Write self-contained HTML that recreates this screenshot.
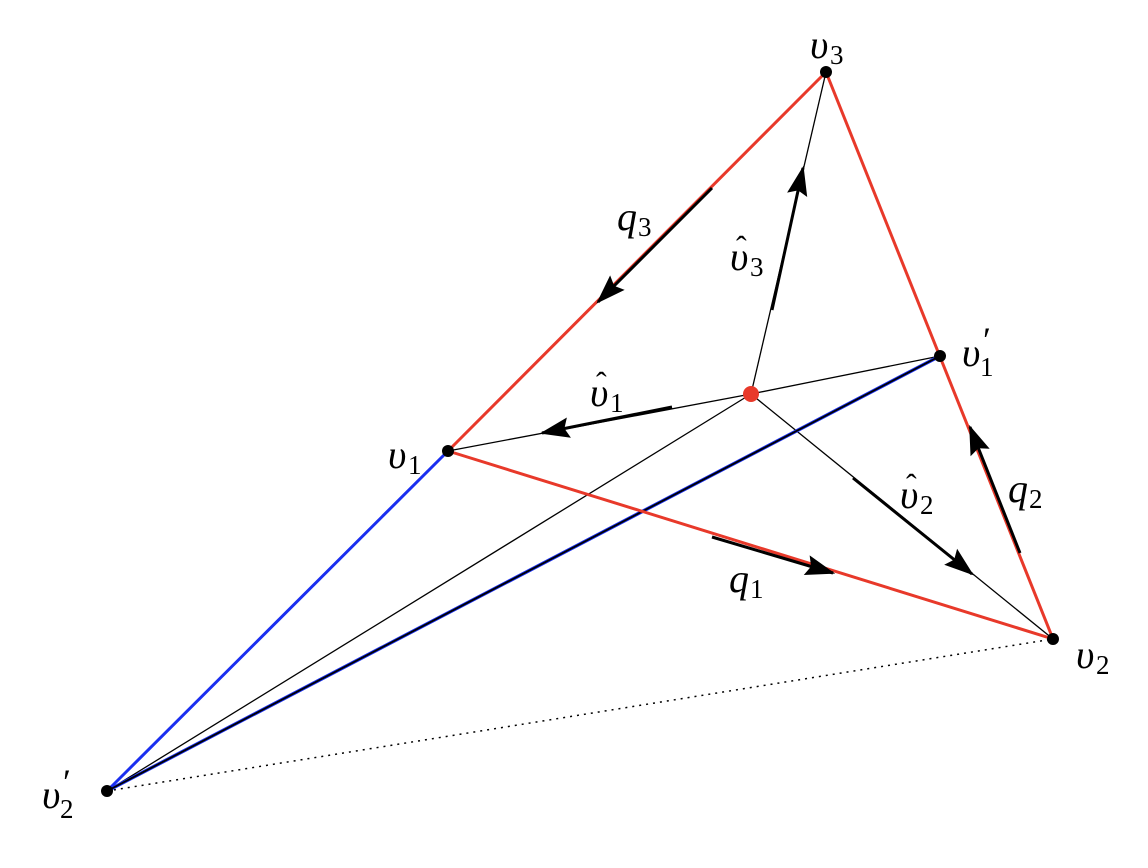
<!DOCTYPE html>
<html><head><meta charset="utf-8"><style>
html,body{margin:0;padding:0;background:#fff}
svg{display:block}
text{font-family:"Liberation Serif",serif;font-style:italic;fill:#000}
.s{font-style:normal}
</style></head><body>
<svg width="1148" height="868" viewBox="0 0 1148 868" xmlns="http://www.w3.org/2000/svg">
<defs>
<marker id="a" markerUnits="userSpaceOnUse" markerWidth="40" markerHeight="40" refX="0" refY="0" viewBox="-30 -15 35 30" orient="auto">
<path d="M2,0 L-24,-9 L-20,0 L-24,9 z" fill="#000"/>
</marker>
</defs>
<line x1="107" y1="791" x2="1053" y2="639" stroke="#000" stroke-width="1.5" stroke-dasharray="2,5"/>
<g stroke="#000" stroke-width="1.3">
<line x1="751" y1="394" x2="826" y2="72"/>
<line x1="751" y1="394" x2="448" y2="451"/>
<line x1="751" y1="394" x2="1053" y2="639"/>
<line x1="751" y1="394" x2="940" y2="356"/>
<line x1="751" y1="394" x2="107" y2="791"/>
</g>
<line x1="448" y1="451" x2="107" y2="791" stroke="#1a2ff0" stroke-width="3"/>
<line x1="107" y1="791" x2="940" y2="356" stroke="#1a2ff0" stroke-width="3.5"/>
<line x1="107" y1="791" x2="940" y2="356" stroke="#000" stroke-width="1.8"/>
<g stroke="#e8392a" stroke-width="3">
<line x1="826" y1="72" x2="448" y2="451"/>
<line x1="826" y1="72" x2="1053" y2="639"/>
<line x1="448" y1="451" x2="1053" y2="639"/>
</g>
<g stroke="#000" stroke-width="3" marker-end="url(#a)">
<line x1="712" y1="188" x2="598" y2="302"/>
<line x1="772" y1="310" x2="803" y2="168"/>
<line x1="672" y1="407" x2="542" y2="433"/>
<line x1="712" y1="537" x2="833" y2="573"/>
<line x1="853" y1="478" x2="972" y2="574"/>
<line x1="1020" y1="553" x2="970" y2="427"/>
</g>
<g fill="#000">
<circle cx="826" cy="72" r="6"/>
<circle cx="448" cy="451" r="6"/>
<circle cx="1053" cy="639" r="6"/>
<circle cx="940" cy="356" r="6"/>
<circle cx="107" cy="791" r="6"/>
</g>
<circle cx="751" cy="394" r="8" fill="#e8392a"/>
<g font-size="40">
<text x="810" y="58">υ</text><text class="s" x="830" y="64" font-size="27">3</text>
<text x="388" y="468">υ</text><text class="s" x="408" y="474" font-size="27">1</text>
<text x="1076" y="668">υ</text><text class="s" x="1096" y="674" font-size="27">2</text>
<text x="962" y="366">υ</text><text class="s" x="983" y="352" font-size="36">′</text><text class="s" x="980" y="376" font-size="27">1</text>
<text x="42" y="808">υ</text><text class="s" x="63" y="794" font-size="36">′</text><text class="s" x="60" y="818" font-size="27">2</text>
<text x="617" y="230">q</text><text class="s" x="638" y="236" font-size="27">3</text>
<text x="730" y="270">υ</text><text class="s" x="736" y="258" font-size="32">ˆ</text><text class="s" x="750" y="276" font-size="27">3</text>
<text x="590" y="406">υ</text><text class="s" x="596" y="394" font-size="32">ˆ</text><text class="s" x="610" y="412" font-size="27">1</text>
<text x="900" y="508">υ</text><text class="s" x="906" y="496" font-size="32">ˆ</text><text class="s" x="920" y="514" font-size="27">2</text>
<text x="1008" y="502">q</text><text class="s" x="1029" y="508" font-size="27">2</text>
<text x="729" y="592">q</text><text class="s" x="750" y="598" font-size="27">1</text>
</g>
</svg>
</body></html>
